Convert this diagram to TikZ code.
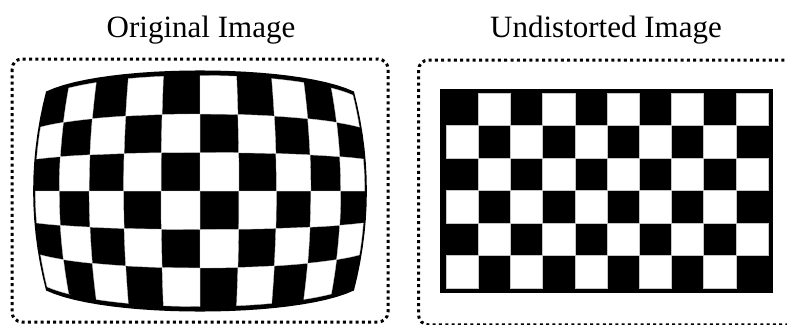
\documentclass[tikz,border=0pt]{standalone}
\usepackage{fontspec}
\setmainfont{Liberation Serif}
\begin{document}
\begin{tikzpicture}[x=1pt,y=-1pt,
  declare function={
    mx(\u,\v)=200+196*\u*(1-0.16*\u*\u-0.06*\v*\v);
    my(\u,\v)=191+115.5*\v*(1-0.17*\u*\u);
  },
  title/.style={font=\fontsize{31}{31}\selectfont, anchor=base, inner sep=0pt},
  framebox/.style={line width=3pt, dash pattern=on 3pt off 3.3pt, rounded corners=10pt},
  cellw/.style={fill=white, draw=gray!45, line width=0.5pt}
]
\useasboundingbox (0,0) rectangle (787,324);

% titles
\node[title] (t1) at (201,37) {Original Image};
\node[title] (t2) at (606,37) {Undistorted Image};

% dotted frames
\draw[framebox] (12,59) rectangle (388,322);
\draw[framebox] (418.5,60) rectangle (805,324.8);

% ---- distorted board ----
\fill[black, draw=black, line width=2pt]
  plot[domain=-1.012:1.012, samples=25] ({mx(\x,-1.035)},{my(\x,-1.035)})
  -- plot[domain=-1.035:1.035, samples=15] ({mx(1.012,\x)},{my(1.012,\x)})
  -- plot[domain=1.012:-1.012, samples=25] ({mx(\x,1.035)},{my(\x,1.035)})
  -- plot[domain=1.035:-1.035, samples=15] ({mx(-1.012,\x)},{my(-1.012,\x)})
  -- cycle;
\foreach \i in {0,...,9}{
  \foreach \j in {0,...,5}{
    \pgfmathparse{int(mod(\i+\j,2))}
    \ifnum\pgfmathresult=1
      \pgfmathsetmacro{\ua}{-1+0.2*\i}
      \pgfmathsetmacro{\ub}{-1+0.2*(\i+1)}
      \pgfmathsetmacro{\va}{-1+\j/3}
      \pgfmathsetmacro{\vb}{-1+(\j+1)/3}
      \fill[white, draw=gray!40, line width=0.4pt]
        plot[domain=\ua:\ub, samples=5] ({mx(\x,\va)},{my(\x,\va)})
        -- plot[domain=\va:\vb, samples=5] ({mx(\ub,\x)},{my(\ub,\x)})
        -- plot[domain=\ub:\ua, samples=5] ({mx(\x,\vb)},{my(\x,\vb)})
        -- plot[domain=\vb:\va, samples=5] ({mx(\ua,\x)},{my(\ua,\x)})
        -- cycle;
    \fi
  }
}

% ---- undistorted board ----
\fill[black] (440,89) rectangle (773,293);
\foreach \i in {0,...,9}{
  \foreach \j in {0,...,5}{
    \pgfmathparse{int(mod(\i+\j,2))}
    \ifnum\pgfmathresult=1
      \path[cellw] ({446+32.2*\i},{93+32.5*\j}) rectangle ++(32.2,32.5);
    \fi
  }
}
\end{tikzpicture}
\end{document}
